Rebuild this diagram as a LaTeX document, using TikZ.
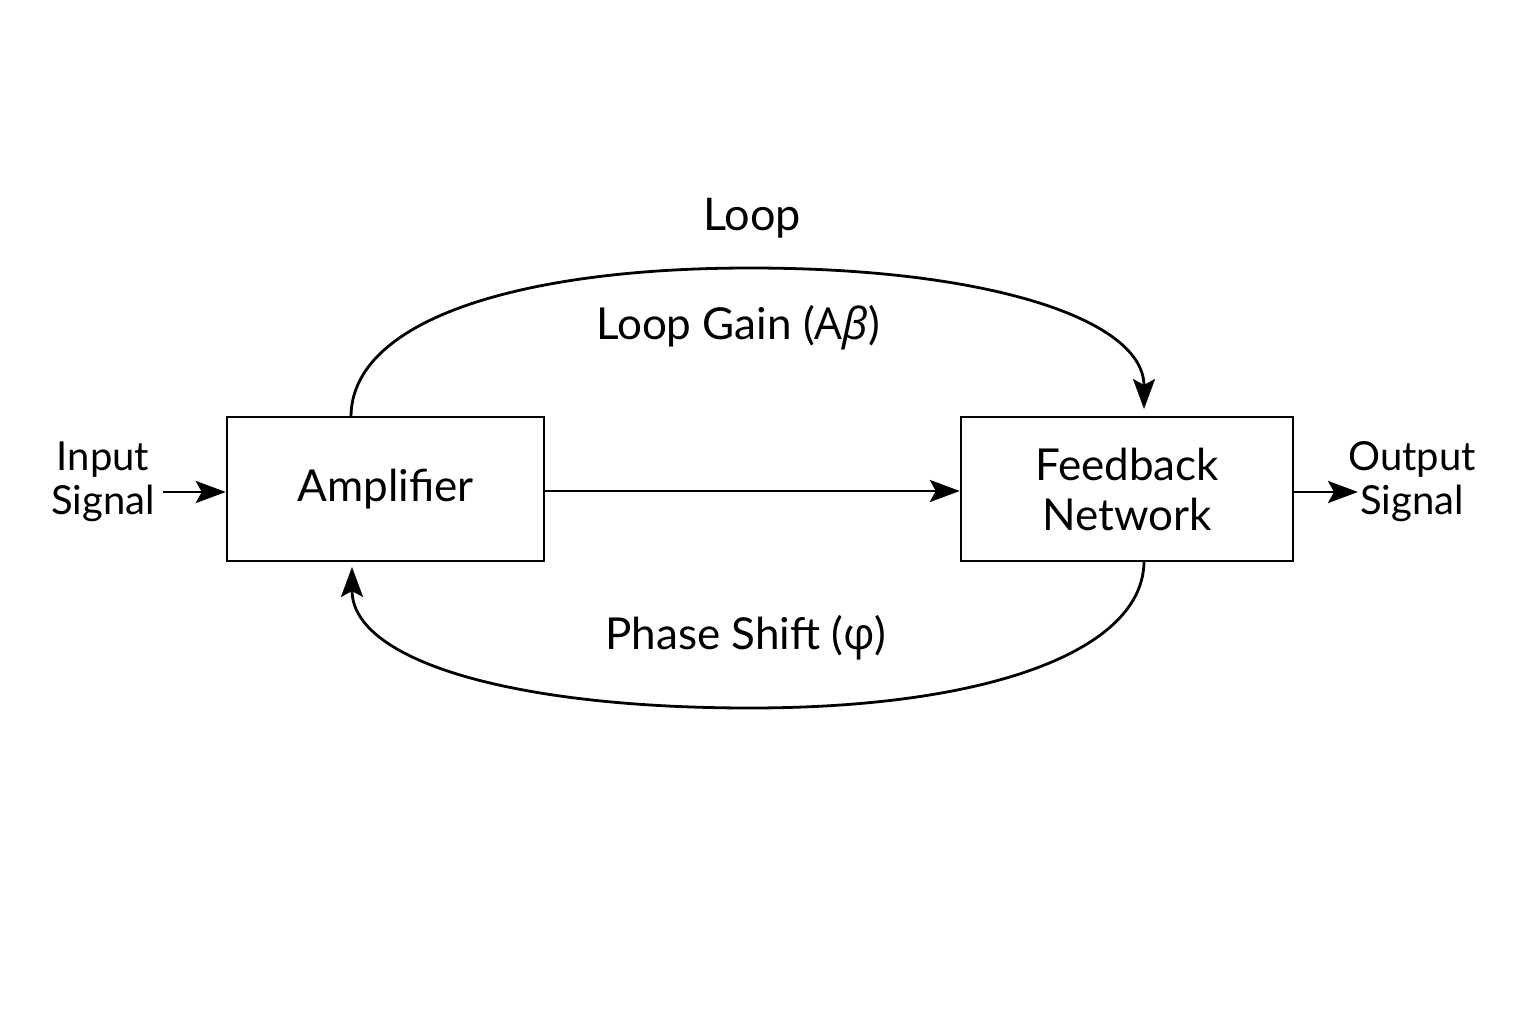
\documentclass[tikz,border=0pt]{standalone}
\usepackage{fontspec}
\setmainfont{Lato}
\newfontfamily\grk{Open Sans}
\usetikzlibrary{arrows.meta,calc}
\begin{document}
\begin{tikzpicture}[x=1pt,y=-1pt,
  blk/.style={draw,line width=2.4pt,minimum width=317pt,minimum height=144pt,inner sep=0pt,font=\fontsize{44}{50}\selectfont,align=center},
  lbl/.style={font=\fontsize{40}{44}\selectfont,align=center},
  mid/.style={font=\fontsize{44}{48}\selectfont},
  tip/.style={-{Stealth[length=30pt,width=22pt,inset=6pt]}},
  con/.style={line width=2.8pt,tip}]
\useasboundingbox (0,0) rectangle (1536,1024);
\node[blk] (amp) at (385.5,489) {Amplifier};
\node[blk,minimum width=332pt] (fb) at (1127,489) {Feedback\\Network};
\node[lbl] (in) at (103,482) {Input\\Signal};
\node[lbl] (out) at (1412,482) {Output\\Signal};
\node[font=\fontsize{45}{50}\selectfont] (loop) at (752,218) {Loop};
\node[mid] (lg) at (738,328) {Loop Gain ({\grk A\itshape β\/})};
\node[mid] (ps) at (746,638) {Phase Shift ({\grk φ})};
\coordinate (a1) at (351,417);
\coordinate (a2) at (1144,409);
\coordinate (b1) at (1144,561);
\coordinate (b2) at (352,567);
\coordinate (ie) at (163,492);
\coordinate (oe) at (1358,492);
\draw[con] (ie) -- (ie -| amp.west);
\draw[con] (amp.east |- 0,491) -- (fb.west |- 0,491);
\draw[con] (fb.east |- oe) -- (oe);
\draw[con] (a1) .. controls (351,320) and (520,268) .. (750,268) .. controls (990,268) and (1144,320) .. (a2);
\draw[con] (b1) .. controls (1144,650) and (990,708) .. (750,708) .. controls (510,708) and (352,660) .. (b2);
\end{tikzpicture}
\end{document}
